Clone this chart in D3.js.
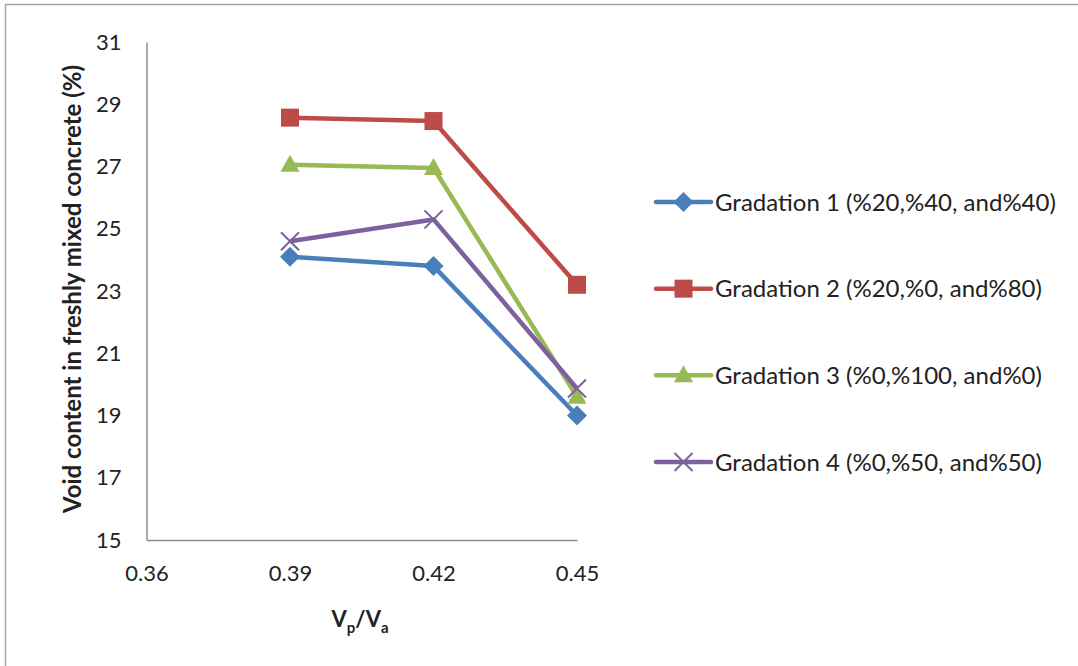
<!DOCTYPE html>
<html>
<head>
<meta charset="utf-8">
<script src="https://cdn.jsdelivr.net/npm/d3@7"></script>
<style>
  body { margin: 0; background: #fff; }
  text { font-family: Lato, "Open Sans", sans-serif; fill: #222; }
</style>
</head>
<body>
<script>
const w = 1078;
const h = 666;

// data
const ratios = [0.39, 0.42, 0.45];
const gradation1 = [24.1, 23.8, 19.0];
const gradation2 = [28.57, 28.46, 23.2];
const gradation3 = [27.06, 26.95, 19.6];
const gradation4 = [24.6, 25.3, 19.87];
const seriesNames = [
  "Gradation 1 (%20,%40, and%40)",
  "Gradation 2 (%20,%0, and%80)",
  "Gradation 3 (%0,%100, and%0)",
  "Gradation 4 (%0,%50, and%50)"
];
const colors = ["#4a7ebb", "#be4b48", "#98b954", "#7d60a0"];
const markers = ["diamond", "square", "triangle", "cross"];
const xTicks = [0.36, 0.39, 0.42, 0.45];
const yTicks = [15, 17, 19, 21, 23, 25, 27, 29, 31];

const series = [gradation1, gradation2, gradation3, gradation4];

let svg = d3.select("body").append("svg")
    .attr("width", w)
    .attr("height", h);

// chart frame
svg.append("rect")
    .attr("x", 5.5).attr("y", 4.5)
    .attr("width", w + 20).attr("height", h + 20)
    .attr("fill", "none")
    .attr("stroke", "#a6a6a6")
    .attr("stroke-width", 1.5);

var x = d3.scaleLinear().domain([0.36, 0.45]).range([146.5, 577]);
var y = d3.scaleLinear().domain([15, 31]).range([540, 42]);

// axes (no tick marks, excel style)
svg.append("g")
    .attr("transform", "translate(0,540)")
    .call(d3.axisBottom(x).tickValues(xTicks).tickFormat(d3.format(".2f")).tickSize(0).tickPadding(25))
    .call(g => g.select(".domain").attr("stroke", "#8c8c8c").attr("stroke-width", 1.5))
    .call(g => g.selectAll("text").style("font-size", "22px").attr("fill", "#222"));

svg.append("g")
    .attr("transform", "translate(146.5,0)")
    .call(d3.axisLeft(y).tickValues(yTicks).tickSize(0).tickPadding(25))
    .call(g => g.select(".domain").attr("stroke", "#8c8c8c").attr("stroke-width", 1.5))
    .call(g => g.selectAll("text").style("font-size", "22px").attr("fill", "#222"));

// axis titles
svg.append("text")
    .attr("transform", "translate(81,289) rotate(-90)")
    .attr("text-anchor", "middle")
    .style("font-size", "24px")
    .style("font-weight", "bold")
    .text("Void content in freshly mixed concrete (%)");

let xt = svg.append("text")
    .attr("x", 360).attr("y", 627)
    .attr("text-anchor", "middle")
    .style("font-size", "22px")
    .style("font-weight", "bold");
xt.append("tspan").text("V");
xt.append("tspan").attr("dy", 6).style("font-size", "15px").text("p");
xt.append("tspan").attr("dy", -6).text("/V");
xt.append("tspan").attr("dy", 6).style("font-size", "15px").text("a");

function marker(g, type, color, cx, cy) {
  if (type === "diamond") {
    g.append("path")
      .attr("d", `M${cx},${cy - 10}L${cx + 10},${cy}L${cx},${cy + 10}L${cx - 10},${cy}Z`)
      .attr("fill", color);
  } else if (type === "square") {
    g.append("rect")
      .attr("x", cx - 9).attr("y", cy - 9).attr("width", 18).attr("height", 18)
      .attr("fill", color);
  } else if (type === "triangle") {
    g.append("path")
      .attr("d", `M${cx},${cy - 10}L${cx + 9.5},${cy + 7}L${cx - 9.5},${cy + 7}Z`)
      .attr("fill", color);
  } else {
    g.append("path")
      .attr("d", `M${cx - 9},${cy - 9}L${cx + 9},${cy + 9}M${cx + 9},${cy - 9}L${cx - 9},${cy + 9}`)
      .attr("stroke", color).attr("stroke-width", 2);
  }
}

const line = d3.line()
    .x(function (d, i) { return x(ratios[i]) })
    .y(function (d) { return y(d) });

series.forEach(function (vals, k) {
  let g = svg.append("g");
  g.append("path")
    .datum(vals)
    .attr("fill", "none")
    .attr("stroke", colors[k])
    .attr("stroke-width", 4.5)
    .attr("stroke-linejoin", "round")
    .attr("d", line);
  vals.forEach(function (v, i) {
    marker(g, markers[k], colors[k], x(ratios[i]), y(v));
  });
});

// legend
var ly = d3.scalePoint().domain(seriesNames).range([202, 462]);
seriesNames.forEach(function (name, k) {
  let g = svg.append("g");
  let yy = ly(name);
  g.append("line")
    .attr("x1", 656).attr("x2", 711)
    .attr("y1", yy).attr("y2", yy)
    .attr("stroke", colors[k])
    .attr("stroke-width", 4.5)
    .attr("stroke-linecap", "round");
  marker(g, markers[k], colors[k], 683.5, yy);
  g.append("text")
    .attr("x", 715).attr("y", yy + 8.5)
    .style("font-size", "24px")
    .text(name);
});
</script>
</body>
</html>
